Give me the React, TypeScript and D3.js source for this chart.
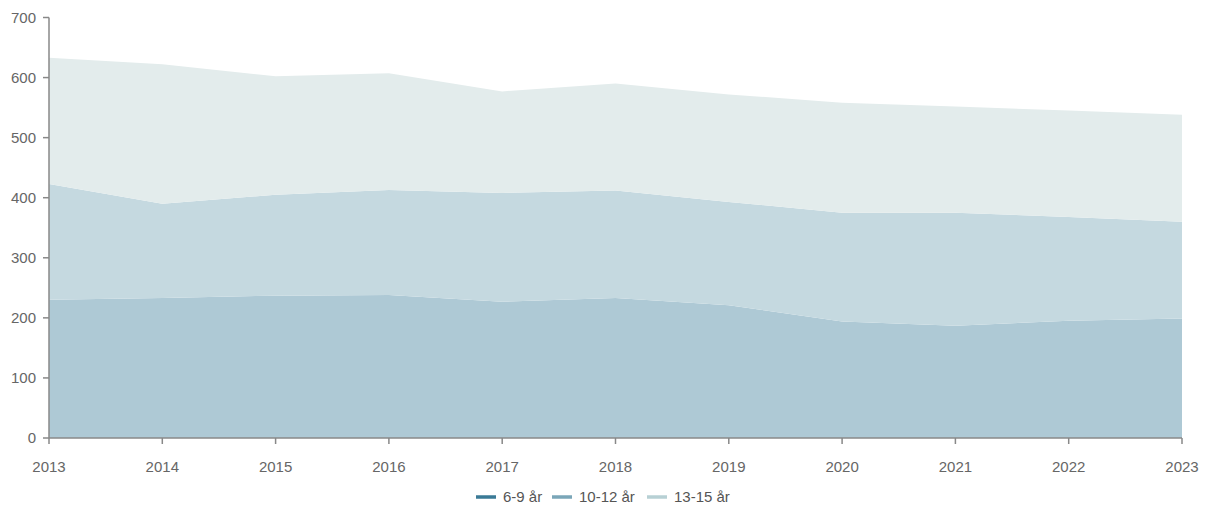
import React from 'react'
import * as d3 from 'd3'

const years = [2013, 2014, 2015, 2016, 2017, 2018, 2019, 2020, 2021, 2022, 2023]
const age6to9 = [230, 233, 237, 238, 227, 233, 221, 194, 187, 195, 199]
const age10to12 = [193, 157, 168, 175, 181, 179, 172, 181, 188, 173, 161]
const age13to15 = [210, 232, 197, 194, 169, 178, 179, 183, 177, 177, 178]
const seriesNames = ['6-9 år', '10-12 år', '13-15 år']
const yTicks = [0, 100, 200, 300, 400, 500, 600, 700]

const areaColors = ['#aec9d5', '#c5d9e0', '#e3ecec']
const legendColors = ['#3a7a96', '#7aa6b8', '#b7d0d4']

const width = 1208
const height = 506
const font = '"Liberation Sans", Arial, sans-serif'

export default function App() {
  const rows = years.map((year, i) => ({
    year,
    a: age6to9[i],
    b: age10to12[i],
    c: age13to15[i],
  }))
  const stacked = d3.stack<any>().keys(['a', 'b', 'c'])(rows)

  const x = d3.scaleLinear().domain([2013, 2023]).range([49, 1182])
  const y = d3.scaleLinear().domain([0, 700]).range([438, 17.5])

  const area = d3.area<any>()
    .x(d => x(d.data.year))
    .y0(d => y(d[0]))
    .y1(d => y(d[1]))

  // legend items laid out left to right
  const legendX = [476, 552, 647]

  return <svg width={width} height={height}
              style={{ position: 'absolute', left: 0, top: 0, fontFamily: font }}>
    {stacked.map((s, i) =>
      <path key={s.key} d={area(s) || ''} fill={areaColors[i]} />
    )}

    <g stroke="#888" strokeWidth={1.5} fill="none">
      <line x1={49} x2={49} y1={y(700)} y2={438} />
      <line x1={49} x2={x(2023)} y1={438} y2={438} />
      {yTicks.map(t => <line key={t} x1={43} x2={49} y1={y(t)} y2={y(t)} />)}
      {years.map(t => <line key={t} x1={x(t)} x2={x(t)} y1={438} y2={444} />)}
    </g>

    <g fill="#666" fontSize={15}>
      {yTicks.map(t =>
        <text key={t} x={36} y={y(t)} dy="0.35em" textAnchor="end">{t}</text>
      )}
      {years.map(t =>
        <text key={t} x={x(t)} y={472} textAnchor="middle">{t}</text>
      )}
    </g>

    <g fontSize={15} fill="#555">
      {seriesNames.map((name, i) =>
        <g key={name} transform={`translate(${legendX[i]},497)`}>
          <line x1={0} x2={20} y1={0} y2={0} stroke={legendColors[i]} strokeWidth={3.5} />
          <text x={27} y={0} dy="0.35em">{name}</text>
        </g>
      )}
    </g>
  </svg>
}
